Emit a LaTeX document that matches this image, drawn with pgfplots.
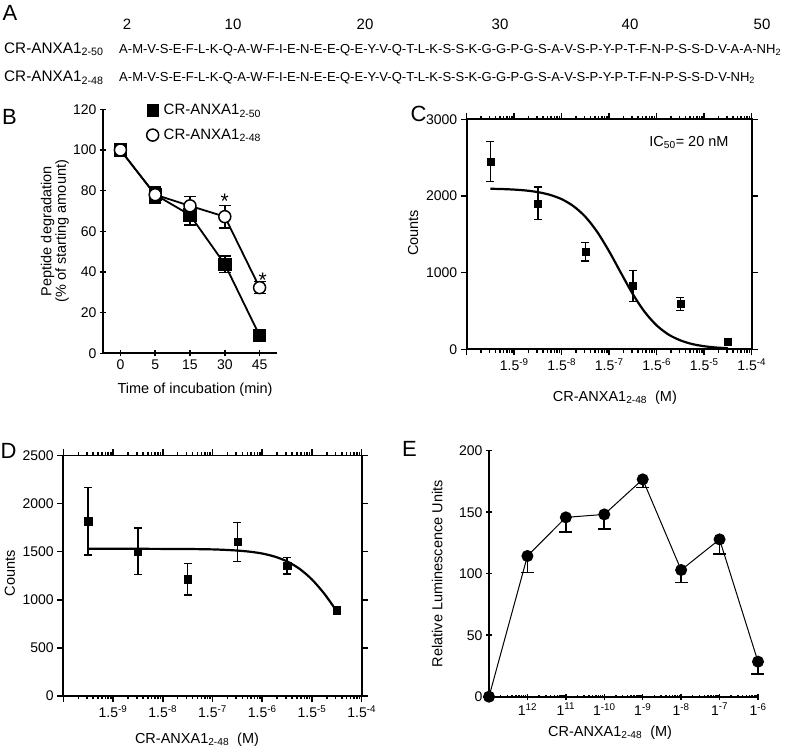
\documentclass[border=0pt]{standalone}
\usepackage{pgfplots}
\pgfplotsset{compat=1.18}
\usepackage{fontspec}
\setmainfont{Liberation Sans}
\newcommand{\fs}[1]{\fontsize{#1bp}{#1bp}\selectfont}
\pgfplotsset{
  every axis/.append style={
    scale only axis,
    /pgf/number format/assume math mode=true,
    /pgf/number format/1000 sep={},
    scaled ticks=false,
    axis line style={line width=1.7bp, black},
    tick style={line width=1.5bp, black},
    major tick length=6bp,
    minor tick length=3.5bp,
    tick align=outside,
    ticklabel style={font=\fs{14}},
    label style={font=\fs{14.5}},
    clip=false,
  },
  minorCD/.style={minor xtick={
    -9.69897,-9.52288,-9.39794,-9.30103,-9.22185,-9.15490,-9.09691,-9.04576,
    -8.69897,-8.52288,-8.39794,-8.30103,-8.22185,-8.15490,-8.09691,-8.04576,
    -7.69897,-7.52288,-7.39794,-7.30103,-7.22185,-7.15490,-7.09691,-7.04576,
    -6.69897,-6.52288,-6.39794,-6.30103,-6.22185,-6.15490,-6.09691,-6.04576,
    -5.69897,-5.52288,-5.39794,-5.30103,-5.22185,-5.15490,-5.09691,-5.04576,
    -4.69897,-4.52288,-4.39794,-4.30103,-4.22185,-4.15490,-4.09691,-4.04576}},
  minorE/.style={minor xtick={
    -12.69897,-12.52288,-12.39794,-12.30103,-12.22185,-12.15490,-12.09691,-12.04576,
    -11.69897,-11.52288,-11.39794,-11.30103,-11.22185,-11.15490,-11.09691,-11.04576,
    -10.69897,-10.52288,-10.39794,-10.30103,-10.22185,-10.15490,-10.09691,-10.04576,
    -9.69897,-9.52288,-9.39794,-9.30103,-9.22185,-9.15490,-9.09691,-9.04576,
    -8.69897,-8.52288,-8.39794,-8.30103,-8.22185,-8.15490,-8.09691,-8.04576,
    -7.69897,-7.52288,-7.39794,-7.30103,-7.22185,-7.15490,-7.09691,-7.04576,
    -6.69897,-6.52288,-6.39794,-6.30103,-6.22185,-6.15490,-6.09691,-6.04576}},
  ebars/.style={error bars/.cd, y dir=both, y explicit,
    error bar style={line width=1.5bp, black},
    error mark options={rotate=90, mark size=#1, line width=1.5bp, black}},
}
\begin{document}
\begin{tikzpicture}
% ---------------- Panel A ----------------
\node[anchor=base west, inner sep=0, font=\fs{22}] at (2.5bp,731.3bp) {A};
\foreach \xx/\tt in {127/2,233/10,365/20,500/30,630/40,762/50}
  \node[anchor=base, inner sep=0, font=\fs{15}] at (\xx bp,722.7bp) {\tt};
\node[anchor=base west, inner sep=0, font=\fs{15.3}] at (4bp,698.7bp) {CR-ANXA1\textsubscript{2-50}};
\node[anchor=base west, inner sep=0, font=\fs{15.3}] at (4bp,670.3bp) {CR-ANXA1\textsubscript{2-48}};
\node[anchor=base west, inner sep=0, font=\fs{13.05}] at (119bp,698.7bp) {A-M-V-S-E-F-L-K-Q-A-W-F-I-E-N-E-E-Q-E-Y-V-Q-T-L-K-S-S-K-G-G-P-G-S-A-V-S-P-Y-P-T-F-N-P-S-S-D-V-A-A-NH\textsubscript{2}};
\node[anchor=base west, inner sep=0, font=\fs{13.05}] at (119bp,670.3bp) {A-M-V-S-E-F-L-K-Q-A-W-F-I-E-N-E-E-Q-E-Y-V-Q-T-L-K-S-S-K-G-G-P-G-S-A-V-S-P-Y-P-T-F-N-P-S-S-D-V-NH\textsubscript{2}};
% panel letters
\node[anchor=base west, inner sep=0, font=\fs{22}] at (2bp,627bp) {B};
\node[anchor=base west, inner sep=0, font=\fs{22}] at (410.5bp,630.3bp) {C};
\node[anchor=base west, inner sep=0, font=\fs{22}] at (0.5bp,293.7bp) {D};
\node[anchor=base west, inner sep=0, font=\fs{22}] at (402bp,295.3bp) {E};

% ---------------- Panel B ----------------
\begin{axis}[
  at={(103bp,398.7bp)}, anchor=south west,
  width=174bp, height=244bp,
  axis lines=left, axis line style={-},
  xmin=-0.5, xmax=4.5, ymin=0, ymax=120,
  xtick={0,1,2,3,4}, xticklabels={0,5,15,30,45},
  ytick={0,20,40,60,80,100,120},
  xlabel={Time of incubation (min)},
  ylabel={Peptide degradation\\(\% of starting amount)},
  ylabel style={align=center, at={(axis description cs:-0.276,0.5)}, anchor=center},
  xlabel style={at={(axis description cs:0.529,-0.150)}, anchor=center},
  legend style={draw=none, fill=none, font=\fs{15}, at={(axis description cs:0.25,1.03)},
    anchor=north west, row sep=9bp, inner sep=0pt,
    /tikz/every odd column/.append style={column sep=3bp}},
  legend cell align=left,
]
\addlegendimage{only marks, mark=square*, mark size=5.8bp, black}
\addlegendentry{CR-ANXA1\textsubscript{2-50}}
\addlegendimage{only marks, mark=*, mark size=6bp, mark options={fill=white, draw=black, line width=1.5bp}}
\addlegendentry{CR-ANXA1\textsubscript{2-48}}
\addplot[forget plot, black, line width=1.8bp, mark=square*, mark size=5.8bp, ebars=6bp]
  coordinates {(0,100) +- (0,0) (1,78) +- (0,3.7) (2,68) +- (0,5) (3,43.8) +- (0,4) (4,8.7) +- (0,2)};
\addplot[forget plot, black, line width=1.8bp, mark=*, mark size=6bp, mark options={fill=white, draw=black, line width=1.5bp}, ebars=6bp]
  coordinates {(0,100) +- (0,0) (1,78) +- (0,4) (2,72.5) +- (0,4.5) (3,67.2) +- (0,5.5) (4,32.3) +- (0,3)};
\node[anchor=base, inner sep=0, font=\fs{21}, yshift=-12bp] at (axis cs:3,77) {*};
\node[anchor=base, inner sep=0, font=\fs{21}, yshift=-12bp] at (axis cs:4.09,38.5) {*};
\end{axis}

% ---------------- Panel C ----------------
\begin{axis}[
  at={(466.7bp,402.7bp)}, anchor=south west,
  width=285bp, height=230bp,
  xmin=-10, xmax=-4, ymin=0, ymax=3000,
  xtick={-10,-9,-8,-7,-6,-5,-4},
  xticklabels={{},{1.5\textsuperscript{-9}},{1.5\textsuperscript{-8}},{1.5\textsuperscript{-7}},{1.5\textsuperscript{-6}},{1.5\textsuperscript{-5}},{1.5\textsuperscript{-4}}},
  minorCD,
  ytick={0,1000,2000,3000},
  xlabel={CR-ANXA1\textsubscript{2-48}~~(M)},
  ylabel={Counts},
  xlabel style={at={(axis description cs:0.52,-0.21)}, anchor=center},
  ylabel style={at={(axis description cs:-0.188,0.506)}, anchor=center},
]
\addplot[black, line width=2.2bp, smooth] coordinates {
(-9.5,2094) (-9.25,2090) (-9.0,2083) (-8.75,2071) (-8.5,2050) (-8.25,2015)
(-8.0,1958) (-7.75,1866) (-7.5,1727) (-7.25,1529) (-7.0,1276) (-6.75,993)
(-6.5,717) (-6.25,485) (-6.0,311) (-5.75,192) (-5.5,116) (-5.25,68)
(-5.0,40) (-4.75,23) (-4.5,14)};
\addplot[only marks, black, mark=square*, mark size=3.6bp, ebars=4bp]
  coordinates {(-9.5,2448) +- (0,260) (-8.5,1904) +- (0,213) (-7.5,1274) +- (0,120)
  (-6.5,826) +- (0,200) (-5.5,591) +- (0,87) (-4.5,100) +- (0,0)};
\node[font=\fs{14.5}, inner sep=0] at (axis description cs:0.78,0.901) {IC\textsubscript{50}= 20 nM};
\end{axis}

% ---------------- Panel D ----------------
\begin{axis}[
  at={(63.3bp,56bp)}, anchor=south west,
  width=298.4bp, height=240.5bp,
  xmin=-10, xmax=-4, ymin=0, ymax=2500,
  xtick={-10,-9,-8,-7,-6,-5,-4},
  xticklabels={{},{1.5\textsuperscript{-9}},{1.5\textsuperscript{-8}},{1.5\textsuperscript{-7}},{1.5\textsuperscript{-6}},{1.5\textsuperscript{-5}},{1.5\textsuperscript{-4}}},
  minorCD,
  ytick={0,500,1000,1500,2000,2500},
  xlabel={CR-ANXA1\textsubscript{2-48}~~(M)},
  ylabel={Counts},
  xlabel style={at={(axis description cs:0.448,-0.182)}, anchor=center},
  ylabel style={at={(axis description cs:-0.179,0.511)}, anchor=center},
]
\addplot[black, line width=2.2bp, smooth] coordinates {
(-9.5,1530) (-9.0,1530) (-8.5,1530) (-8.0,1529) (-7.5,1528) (-7.0,1524)
(-6.75,1519) (-6.5,1512) (-6.25,1500) (-6.0,1481) (-5.75,1449) (-5.5,1399)
(-5.25,1322) (-5.0,1211) (-4.75,1062) (-4.5,880)};
\addplot[only marks, black, mark=square*, mark size=3.6bp, ebars=4bp]
  coordinates {(-9.5,1818) +- (0,350) (-8.5,1504) +- (0,240) (-7.5,1215) +- (0,163)
  (-6.5,1601) +- (0,205) (-5.5,1354) +- (0,85) (-4.5,885) +- (0,40)};
\end{axis}

% ---------------- Panel E ----------------
\begin{axis}[
  at={(489bp,55.3bp)}, anchor=south west,
  width=269bp, height=246bp,
  axis lines=left, axis line style={-},
  xmin=-13, xmax=-6, ymin=0, ymax=200,
  xtick={-13,-12,-11,-10,-9,-8,-7,-6},
  xticklabels={{},{1\textsuperscript{12}},{1\textsuperscript{11}},{1\textsuperscript{-10}},{1\textsuperscript{-9}},{1\textsuperscript{-8}},{1\textsuperscript{-7}},{1\textsuperscript{-6}}},
  minorE,
  ytick={0,50,100,150,200},
  xlabel={CR-ANXA1\textsubscript{2-48}~~(M)},
  ylabel={Relative Luminescence Units},
  xlabel style={at={(axis description cs:0.45,-0.145)}, anchor=center},
  ylabel style={at={(axis description cs:-0.193,0.5)}, anchor=center},
]
\addplot[black, line width=1bp, mark=*, mark size=5.5bp,
  error bars/.cd, y dir=minus, y explicit,
  error bar style={line width=1.6bp, black},
  error mark options={rotate=90, mark size=6.5bp, line width=1.6bp, black}]
  coordinates {(-13,0) +- (0,0) (-12,114.4) +- (0,13.3) (-11,145.8) +- (0,11.7)
  (-10,148.2) +- (0,12) (-9,176.7) +- (0,6.5) (-8,103) +- (0,10.3)
  (-7,127.9) +- (0,12) (-6,28.5) +- (0,10)};
\end{axis}
\pgfresetboundingbox
\path (0,0) rectangle (800bp,752bp);
\end{tikzpicture}
\end{document}
